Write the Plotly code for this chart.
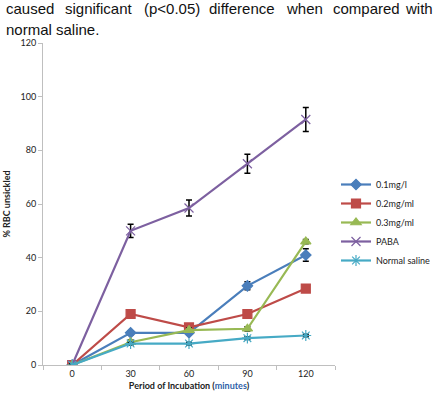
import plotly.graph_objects as go

periods = ["0", "30", "60", "90", "120"]
series_names = ["0.1mg/l", "0.2mg/ml", "0.3mg/ml", "PABA", "Normal saline"]
v_01 = [0, 12, 12, 29.5, 41]
v_02 = [0, 19, 14, 19, 28.5]
v_03 = [0, 8.5, 13, 13.5, 46]
v_paba = [0, 50, 58.5, 75, 91.5]
v_ns = [0, 8, 8, 10, 11]
e_01 = [0.5, 0.8, 0.8, 1.5, 2.3]
e_02 = [0.5, 0.8, 0.8, 0.8, 1.3]
e_03 = [0.5, 0.8, 0.8, 0.8, 0.8]
e_paba = [0.5, 2.5, 3.0, 3.5, 4.5]
e_ns = [0.5, 0.5, 0.5, 0.5, 0.5]

colors = ["#4A7EBB", "#BE4B48", "#98B954", "#7D60A0", "#46AAC5"]
symbols = ["diamond", "square", "triangle-up", "x-thin-open", "asterisk-open"]
sizes = [8, 9, 9, 9, 9]
values = [v_01, v_02, v_03, v_paba, v_ns]
errs = [e_01, e_02, e_03, e_paba, e_ns]

fig = go.Figure()
for name, vals, err, col, sym, sz in zip(series_names, values, errs, colors, symbols, sizes):
    fig.add_trace(go.Scatter(
        x=periods, y=vals, name=name, mode="lines+markers",
        line=dict(color=col, width=2.2),
        marker=dict(symbol=sym, size=sz, color=col, line=dict(color=col, width=1.2)),
        error_y=dict(type="data", array=err, visible=True, color="black", thickness=1.5, width=3),
    ))

W, H = 438, 402
L, R, T, B = 43, 103, 43, 37
pw, ph = W - L - R, H - T - B

def px(x):
    return (x - L) / pw

def py(y):
    return (H - B - y) / ph

words = [("caused", 4), ("significant", 63), ("(p<0.05)", 142), ("difference", 207),
         ("when", 284), ("compared", 331), ("with", 403)]
anns = []
for w, x0 in words:
    anns.append(dict(text=w, x=px(x0), y=py(9), xref="paper", yref="paper",
                     xanchor="left", yanchor="middle", showarrow=False,
                     font=dict(family="Liberation Sans", size=15, color="#111")))
anns.append(dict(text="normal saline.", x=px(4), y=py(29), xref="paper", yref="paper",
                 xanchor="left", yanchor="middle", showarrow=False,
                 font=dict(family="Liberation Sans", size=15, color="#111")))

fig.update_layout(
    width=W, height=H,
    margin=dict(l=L, r=R, t=T, b=B, autoexpand=False),
    paper_bgcolor="white", plot_bgcolor="white",
    font=dict(family="Lato", size=9, color="#222"),
    showlegend=True,
    legend=dict(x=px(336), y=py(170), xanchor="left", yanchor="top",
                font=dict(family="Lato", size=9, color="#222"),
                bgcolor="rgba(0,0,0,0)", itemwidth=30, tracegroupgap=0),
    annotations=anns,
    xaxis=dict(type="category", range=[-0.5, 4.5], tickson="boundaries",
               showline=True, linecolor="#BFBFBF", linewidth=1,
               ticks="outside", ticklen=4, tickcolor="#BFBFBF",
               showgrid=False, zeroline=False,
               tickfont=dict(family="Lato", size=9, color="#222"),
               title=dict(text="<b>Period of Incubation (<span style='color:#2E5FA8'>minutes</span>)</b>",
                          font=dict(family="Lato", size=9, color="#222"), standoff=4)),
    yaxis=dict(range=[0, 120], dtick=20, showline=True, linecolor="#BFBFBF", linewidth=1,
               ticks="outside", ticklen=4, tickcolor="#BFBFBF",
               showgrid=False, zeroline=False,
               tickfont=dict(family="Lato", size=9, color="#222"),
               title=dict(text="<b>% RBC unsickled</b>",
                          font=dict(family="Lato", size=9, color="#222"), standoff=8)),
)

fig.write_html("out.html")
